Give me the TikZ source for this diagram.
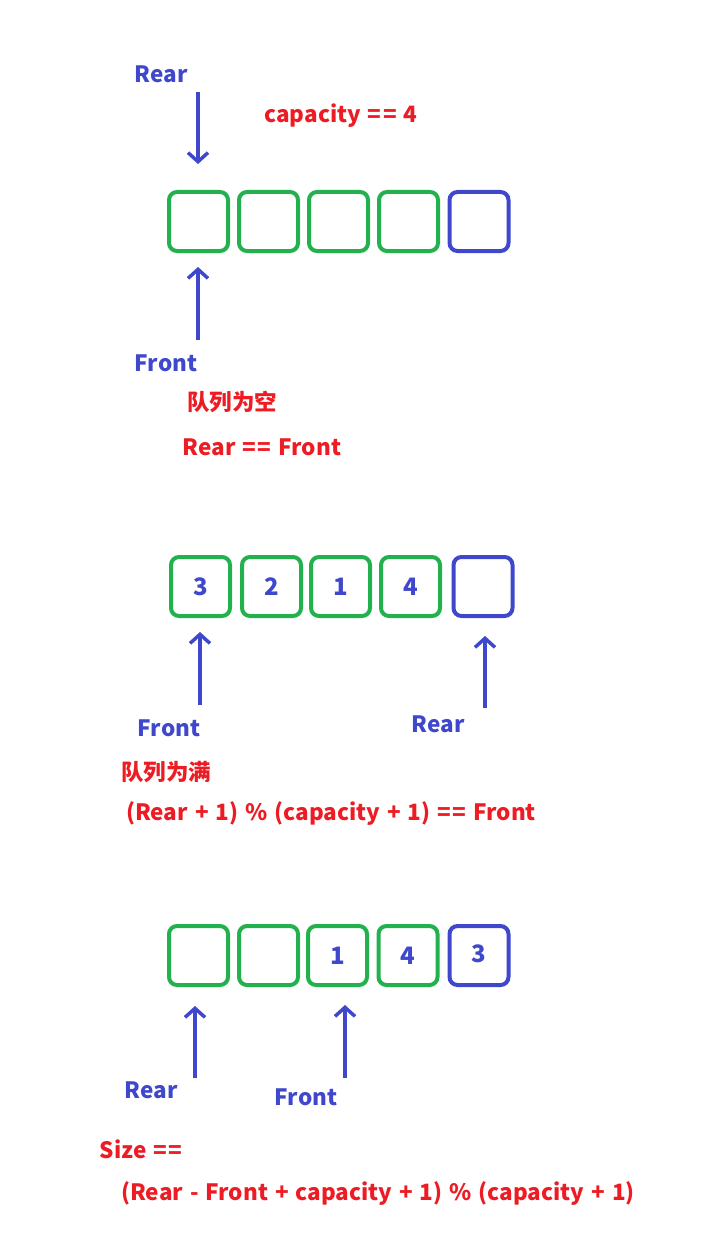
\documentclass[tikz,border=0pt]{standalone}
\usepackage{fontspec}
\setmainfont{Noto Sans CJK SC}
\usetikzlibrary{arrows.meta}
\definecolor{qgreen}{RGB}{34,177,76}
\definecolor{qblue}{RGB}{63,72,204}
\definecolor{qred}{RGB}{237,28,36}
\newcommand{\eqeq}{=\kern1.5pt=}
\newcommand{\widespace}{\spaceskip=7pt\relax}
\tikzset{
  cell/.style={draw=qgreen, rectangle, rounded corners=8pt, line width=4pt, minimum width=59pt, minimum height=59pt, inner sep=0pt, text=qblue, font=\fontsize{24}{26}\selectfont\bfseries},
  spare/.style={cell, draw=qblue},
  ptr/.style={text=qblue, font=\fontsize{22.5}{26}\selectfont\bfseries},
  note/.style={text=qred, font=\fontsize{22.5}{26}\selectfont\bfseries\widespace},
  arr/.style={draw=qblue, line width=3.5pt, -{Straight Barb[length=9pt, width=20pt, line width=3.5pt]}}
}

\begin{document}
\begin{tikzpicture}[x=1pt, y=-1pt]
  \useasboundingbox (0,0) rectangle (717,1260);

  % empty queue
  \node[cell] (a1) at (198.5, 221.5) {};
  \node[cell] (a2) at (268.5, 221.5) {};
  \node[cell] (a3) at (338.5, 221.5) {};
  \node[cell] (a4) at (408.5, 221.5) {};
  \node[spare] (a5) at (479, 221.5) {};

  \node[ptr] (arear) at (161, 74) {Rear};
  \node[note] (acap) at (341, 116) {capacity \eqeq{} 4};
  \node[ptr] (afront) at (166, 363) {Front};
  \node[note] (aempty) at (232, 402) {队列为空};
  \node[note] (aeq) at (262, 447) {Rear \eqeq{} Front};

  \coordinate (arearend) at (198, 92);
  \coordinate (afrontend) at (198, 340);
  \path[arr, shorten >=26pt] (arearend) -- (arearend |- a1.north);
  \path[arr, shorten >=14pt] (afrontend) -- (afrontend |- a1.south);

  % full queue
  \node[cell] (b1) at (200.5, 586.5) {3};
  \node[cell] (b2) at (271.5, 586.5) {2};
  \node[cell] (b3) at (340.5, 586.5) {1};
  \node[cell] (b4) at (410.5, 586.5) {4};
  \node[spare] (b5) at (483, 586.5) {};

  \node[ptr] (bfront) at (169, 728) {Front};
  \node[ptr] (brear) at (438, 724) {Rear};
  \node[note] (bfull) at (166, 772) {队列为满};
  \node[note] (beq) at (331, 813) {(Rear + 1) \% (capacity + 1) \eqeq{} Front};

  \coordinate (bfrontend) at (200, 705);
  \coordinate (brearend) at (485, 708);
  \path[arr, shorten >=14pt] (bfrontend) -- (bfrontend |- b1.south);
  \path[arr, shorten >=18pt] (brearend) -- (brearend |- b5.south);

  % size
  \node[cell] (c1) at (198.5, 955.5) {};
  \node[cell] (c2) at (268.5, 955.5) {};
  \node[cell] (c3) at (337.5, 955.5) {1};
  \node[cell] (c4) at (408, 955.5) {4};
  \node[spare] (c5) at (479, 955.5) {\raisebox{3pt}{3}};

  \node[ptr] (crear) at (151, 1090) {Rear};
  \node[ptr] (cfront) at (306, 1097) {Front};
  \node[note] (csize) at (141, 1149) {Size \eqeq};
  \node[note] (ceq) at (378, 1193) {(Rear - Front + capacity + 1) \% (capacity + 1)};

  \coordinate (crearend) at (195, 1078);
  \coordinate (cfrontend) at (345, 1078);
  \path[arr, shorten >=19pt] (crearend) -- (crearend |- c1.south);
  \path[arr, shorten >=18pt] (cfrontend) -- (cfrontend |- c3.south);
\end{tikzpicture}
\end{document}
